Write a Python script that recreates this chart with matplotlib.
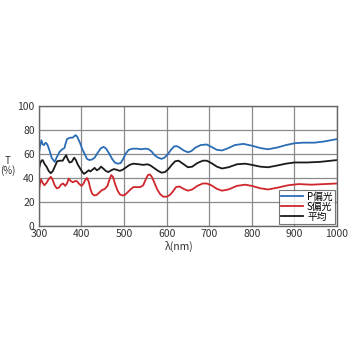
import matplotlib
matplotlib.use("Agg")
import matplotlib.pyplot as plt

plt.rcParams['font.family'] = ['Noto Sans CJK JP', 'DejaVu Sans']

# P-polarised transmittance
p_wl = [300, 303, 306, 309, 312, 316, 320, 325, 330, 337, 343, 349, 355, 360, 363, 366,
        372, 380, 386, 390, 397, 402, 407, 413, 419, 425, 431, 438, 445, 452, 458, 465,
        472, 478, 485, 492, 498, 504, 511, 520, 530, 540, 550, 558, 565, 572, 580, 588,
        595, 603, 610, 618, 625, 632, 640, 650, 658, 668, 680, 694, 705, 718, 730, 745,
        760, 780, 800, 820, 838, 860, 880, 900, 920, 947, 970, 1000]
p_val = [60.5, 67, 71.5, 68, 67.5, 69.5, 68, 63, 57, 53.5, 58, 62, 64, 65, 69, 72.5,
         73.5, 73.8, 75.8, 74.5, 69, 64, 60.5, 56, 55, 55.5, 57, 61, 64.7, 66, 64.5, 60.5,
         56, 53, 52, 52.5, 56, 60.5, 63.5, 64.5, 64.5, 64, 64.5, 64, 62, 59, 57, 56,
         57, 60, 63.5, 66.5, 66.5, 65, 63, 61.5, 62.5, 65.5, 67.5, 68, 66, 63.5, 63, 65,
         67.5, 68.5, 67, 65, 64, 65.5, 67.5, 69, 69.5, 69.5, 70.5, 72.5]

# S-polarised transmittance
s_wl = [300, 302, 305, 309, 313, 318, 323, 328, 332, 337, 342, 347, 352, 357, 362, 366,
        370, 375, 380, 385, 389, 395, 400, 405, 409, 413, 417, 421, 425, 430, 436, 442,
        448, 455, 461, 466, 470, 474, 479, 485, 490, 496, 502, 508, 515, 522, 530, 538,
        545, 551, 556, 561, 566, 572, 578, 585, 592, 600, 608, 615, 622, 630, 640, 650,
        660, 672, 685, 694, 705, 718, 730, 745, 765, 784, 800, 820, 838, 860, 885, 910,
        940, 970, 1000]
s_val = [27, 34, 39, 36, 34, 36, 39, 41, 39, 34, 31.5, 32, 34.5, 35.5, 33.5, 35.5,
         39.5, 37.5, 36.5, 37.5, 37.5, 35, 33.5, 35.5, 38.5, 40, 37, 31, 27, 25.5, 26, 28,
         30, 31, 33.5, 39, 42.5, 41, 35, 29.5, 26.5, 25.5, 26, 28, 30.5, 32.5, 32.5, 32.5,
         34, 39, 42.5, 43, 40.5, 35.5, 30.5, 26.5, 24.5, 24.5, 26, 29, 32.5, 33, 31, 29.5,
         30.5, 33.5, 35.5, 35.5, 34, 31, 29.5, 30.5, 33.5, 34.5, 33.5, 31.5, 30.5, 32, 34, 35,
         34.5, 35, 35.5]

# average
a_wl = [300, 303, 306, 309, 313, 318, 323, 328, 333, 338, 343, 350, 356, 360, 364, 368,
        372, 377, 383, 387, 391, 397, 402, 406, 412, 417, 421, 426, 431, 436, 441, 446,
        451, 457, 463, 470, 476, 482, 490, 497, 505, 513, 522, 535, 545, 555, 562, 570,
        580, 588, 596, 604, 612, 620, 628, 638, 650, 660, 672, 685, 694, 705, 718, 730,
        745, 765, 784, 800, 820, 838, 860, 880, 900, 930, 960, 1000]
a_val = [47, 52, 54.5, 55, 52, 49.5, 46, 44, 46, 50, 54, 54.5, 54.5, 57, 59, 55.5,
         53, 53.5, 57, 55, 51.5, 48, 45, 43.5, 45, 46.5, 45.5, 47, 48.5, 46.5, 47.5, 49.5,
         48, 46, 45, 46.5, 47.5, 47, 46, 47, 49, 51, 52, 51.5, 51, 51.5, 50.5, 48.5,
         46, 44.5, 45, 47.5, 51, 54, 54.5, 52, 49, 49.5, 52.5, 54.5, 54.5, 52.5, 49.5, 48,
         49, 51.5, 52, 51, 49.5, 49, 50.5, 52, 53, 53, 53.5, 55]

x_ticks = [300, 400, 500, 600, 700, 800, 900, 1000]
y_ticks = [0, 20, 40, 60, 80, 100]

fig = plt.figure(figsize=(3.5, 3.5), dpi=100)
ax = fig.add_axes([0.111, 0.354, 0.852, 0.343])

ax.plot(p_wl, p_val, color="#2b6db5", lw=1.3, label="P偏光")
ax.plot(s_wl, s_val, color="#d0262d", lw=1.3, label="S偏光")
ax.plot(a_wl, a_val, color="#1a1a1a", lw=1.3, label="平均")

ax.set_xlim(300, 1000)
ax.set_ylim(0, 100)
ax.set_xticks(x_ticks)
ax.set_yticks(y_ticks)
ax.tick_params(length=0, labelsize=7.5, colors="#333333")
ax.tick_params(axis="x", pad=2)
ax.tick_params(axis="y", pad=3)
ax.grid(True, color="#8a8a8a", lw=0.9)
for sp in ax.spines.values():
    sp.set_color("#666666")
    sp.set_linewidth(1)

fig.text(0.022, 0.527, "T\n(%)", ha="center", va="center", fontsize=7, color="#333333",
         linespacing=0.9)
fig.text(0.511, 0.296, "λ(nm)", ha="center", va="center", fontsize=7.5, color="#333333")

leg = ax.legend(loc="lower right", fontsize=7, handlelength=2.3, frameon=True,
                fancybox=False, borderpad=0.2, labelspacing=0.0, handletextpad=0.4,
                borderaxespad=0.25)
leg.get_frame().set_edgecolor("#555555")
leg.get_frame().set_linewidth(0.8)

fig.savefig("out.png", dpi=100)
